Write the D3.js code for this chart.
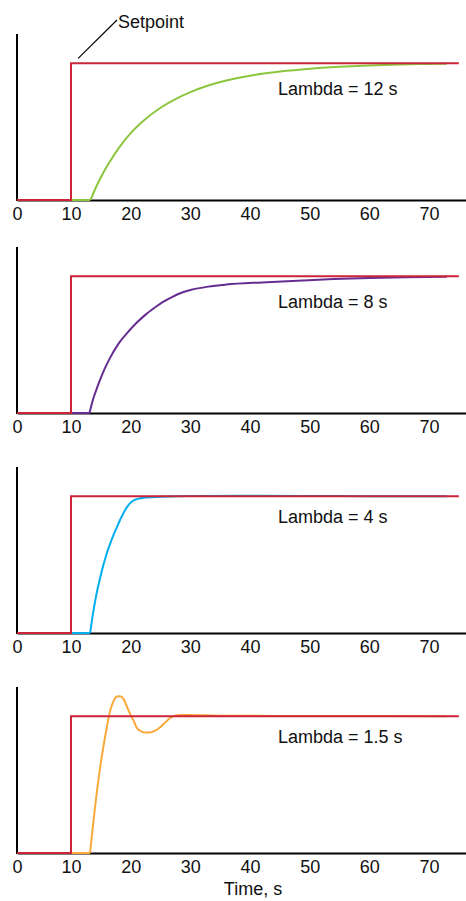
<!DOCTYPE html>
<meta charset="utf-8">
<style>
body {
  margin: 0;
  background: #fff;
}
svg text {
  font-family: "Liberation Sans", Arial, sans-serif;
  font-size: 18px;
  fill: #111;
}
.axis path {
  stroke: #000;
  stroke-width: 2px;
}
.axis text {
  font-size: 18px;
}
</style>
<body>
<script src="https://d3js.org/d3.v7.min.js"></script>
<script>

// tick labels on the time axis
var timeTicks = [0, 10, 20, 30, 40, 50, 60, 70];

// setpoint step (time, fraction of step)
var setpointT = [0, 10, 10, 75];
var setpointV = [0, 0, 1, 1];

// dead time before the process responds
var deadT = [10, 13.2];

var lambdaLabels = ["Lambda = 12 s", "Lambda = 8 s", "Lambda = 4 s", "Lambda = 1.5 s"];

// process variable
var t12 = [13.3, 14, 15, 16, 17, 18, 20, 22, 25, 28, 30, 33, 36, 40, 45, 50, 55, 60, 65, 70, 73];
var pv12 = [0, 0.075, 0.165, 0.245, 0.315, 0.38, 0.49, 0.575, 0.675, 0.75, 0.79, 0.838, 0.875, 0.91, 0.94, 0.961, 0.975, 0.985, 0.992, 0.996, 0.998];

var t8 = [13.1, 13.7, 14.5, 15.5, 16.5, 18, 19.5, 21, 22.5, 24, 25.5, 27, 28.5, 30, 33, 36, 42, 48, 54, 60, 66, 73];
var pv8 = [0, 0.1, 0.2, 0.31, 0.40, 0.51, 0.59, 0.66, 0.72, 0.77, 0.815, 0.85, 0.88, 0.90, 0.925, 0.94, 0.956, 0.968, 0.98, 0.988, 0.994, 0.998];

var t4 = [13.2, 13.7, 14.2, 14.7, 15.2, 15.7, 16.2, 16.7, 17.2, 17.7, 18.2, 18.7, 19.2, 19.7, 20.2, 20.7, 21.5, 22.7, 25, 30, 40, 50, 60, 73];
var pv4 = [0, 0.145, 0.27, 0.37, 0.46, 0.54, 0.61, 0.67, 0.725, 0.775, 0.825, 0.87, 0.91, 0.94, 0.962, 0.975, 0.985, 0.992, 0.997, 1.003, 1.004, 1.003, 1.001, 1.0];

var t15 = [13.2, 13.6, 14.2, 14.8, 15.4, 16, 16.5, 17.1, 17.7, 18.2, 18.8, 19.3, 19.9, 20.5, 21, 21.6, 22.4, 23.2, 24.1, 24.9, 25.8, 26.6, 27.4, 28.3, 30, 35, 45, 60, 73];
var pv15 = [0, 0.17, 0.40, 0.60, 0.77, 0.92, 1.03, 1.11, 1.145, 1.148, 1.128, 1.079, 1.018, 0.968, 0.919, 0.895, 0.882, 0.882, 0.895, 0.919, 0.956, 0.988, 1.005, 1.01, 1.01, 1.005, 1.003, 1.002, 1.0];

var seriesT = [t12, t8, t4, t15];
var seriesV = [pv12, pv8, pv4, pv15];
var colors = ["#8cc63f", "#662d91", "#00aeef", "#f9a93a"];
var setpointColor = "#cc2539";

var width = 466, height = 901;
var panelTop = [34, 247, 467, 687];
var panelH = 166;
var labelDy = [32, 32, 27, 27];

var svg = d3.select("body").append("svg")
    .attr("width", width)
    .attr("height", height);

// the plot is not evenly spaced between 0 and 10
var x = d3.scaleLinear()
    .domain([0, 10, 76.2])
    .range([17, 71, 466]);

var y = d3.scaleLinear()
    .domain([0, 1.215])
    .range([panelH, 0]);

var line = d3.line()
    .x(function(d) { return x(d[0]); })
    .y(function(d) { return y(d[1]); });

var smooth = d3.line()
    .x(function(d) { return x(d[0]); })
    .y(function(d) { return y(d[1]); })
    .curve(d3.curveMonotoneX);

var xAxis = d3.axisBottom(x)
    .tickValues(timeTicks)
    .tickSize(0)
    .tickSizeOuter(0)
    .tickPadding(7)
    .tickFormat(d3.format("d"));

panelTop.forEach(function(top, i) {
  var g = svg.append("g")
      .attr("transform", "translate(0," + top + ")");

  g.append("g")
      .attr("class", "axis")
      .attr("transform", "translate(0," + panelH + ")")
      .call(xAxis)
      .call(function(a) { a.selectAll("text").attr("fill", "#111"); });

  g.append("line")
      .attr("x1", x(0)).attr("x2", x(0))
      .attr("y1", y(0) + 1).attr("y2", y(1.215))
      .attr("stroke", "#000")
      .attr("stroke-width", 2);

  // dead time flat part
  g.append("path")
      .datum(deadT.map(function(t) { return [t, 0]; }))
      .attr("d", line)
      .attr("fill", "none")
      .attr("stroke", colors[i])
      .attr("stroke-width", 2);

  g.append("path")
      .datum(seriesT[i].map(function(t, j) { return [t, seriesV[i][j]]; }))
      .attr("d", smooth)
      .attr("fill", "none")
      .attr("stroke", colors[i])
      .attr("stroke-width", 2);

  g.append("path")
      .datum(setpointT.map(function(t, j) { return [t, setpointV[j]]; }))
      .attr("d", line)
      .attr("fill", "none")
      .attr("stroke", setpointColor)
      .attr("stroke-width", 2);

  g.append("text")
      .attr("x", 278)
      .attr("y", y(1) + labelDy[i])
      .text(lambdaLabels[i]);

  if (i === 0) {
    g.append("line")
        .attr("x1", x(11.2)).attr("y1", y(1) - 5)
        .attr("x2", 117).attr("y2", -14)
        .attr("stroke", "#000")
        .attr("stroke-width", 1.2);
    g.append("text")
        .attr("x", 118)
        .attr("y", -6)
        .text("Setpoint");
  }
});

svg.append("text")
    .attr("x", 253)
    .attr("y", 895)
    .attr("text-anchor", "middle")
    .text("Time, s");

</script>
